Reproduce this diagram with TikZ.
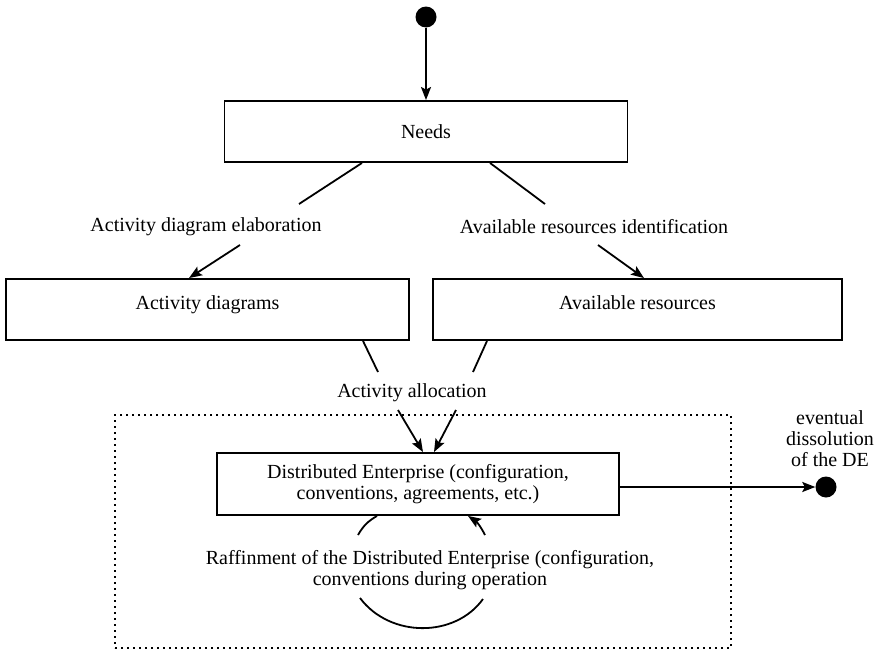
\documentclass[tikz,border=0pt]{standalone}
\usepackage{fontspec}
\setmainfont{Liberation Serif}
\usetikzlibrary{arrows.meta}
\begin{document}
\begin{tikzpicture}[x=1pt,y=-1pt,
  every node/.style={font=\fontsize{20}{21}\selectfont},
  box/.style={draw, line width=1.9pt, minimum width=403pt, minimum height=61pt, inner sep=0pt, align=center},
  lbl/.style={inner sep=0pt, align=center},
  dotnode/.style={circle, fill=black, minimum size=21pt, inner sep=0pt},
  frame/.style={draw, line width=2pt, dash pattern=on 2pt off 4pt, inner sep=0pt},
  conn/.style={line width=1.8pt},
  arr/.style={line width=1.8pt, -{Stealth[length=13pt,width=10pt,inset=2.5pt]}}]
\useasboundingbox (0,0) rectangle (881,653);

% dotted frame
\node[frame, minimum width=616pt, minimum height=233pt] (deframe) at (423,531.5) {};

% nodes
\node[dotnode] (start) at (426,17) {};
\node[box] (needs) at (426,131.5) {Needs};
\node[box, text height=14pt, text depth=14pt] (actd) at (207.5,309.5) {Activity diagrams};
\node[box, minimum width=409pt, text height=14pt, text depth=14pt] (avres) at (637.5,309.5) {Available resources};
\node[box, minimum width=402pt, minimum height=62pt, fill=white] (de) at (418,484) {Distributed Enterprise (configuration,\\conventions, agreements, etc.)};
\node[dotnode, minimum size=21pt] (end) at (826,487) {};

\node[lbl] (ade) at (206,227) {Activity diagram elaboration};
\node[lbl] (ari) at (594,227) {Available resources identification};
\node[lbl] (aa) at (412,393) {Activity allocation};
\node[lbl] (raf) at (430,570) {Raffinment of the Distributed Enterprise (configuration,\\conventions during operation};
\node[lbl] (diss) at (830,439) {eventual\\dissolution\\of the DE};

% free ends
\coordinate (ade-top) at (299,204);
\coordinate (ade-bot) at (240,245);
\coordinate (ari-top) at (545,204);
\coordinate (ari-bot) at (598,245);
\coordinate (aa-l) at (378,372);
\coordinate (aa-r) at (473,372);
\coordinate (aa-lb) at (398,410);
\coordinate (aa-rb) at (456,410);
\coordinate (raf-ul) at (358,535);
\coordinate (raf-ur) at (485,535);
\coordinate (raf-ll) at (360,598);
\coordinate (raf-lr) at (483,599);

% connectors
\draw[arr] (start) -- (needs.north);
\draw[conn] ([xshift=-64pt]needs.south) -- (ade-top);
\draw[arr] (ade-bot) -- ([xshift=-18.5pt]actd.north);
\draw[conn] ([xshift=64pt]needs.south) -- (ari-top);
\draw[arr] (ari-bot) -- ([xshift=6.5pt]avres.north);
\draw[conn] ([xshift=155.5pt]actd.south) -- (aa-l);
\draw[conn] ([xshift=-150.5pt]avres.south) -- (aa-r);
\draw[arr] (aa-lb) -- ([xshift=5pt]de.north);
\draw[arr] (aa-rb) -- ([xshift=16pt]de.north);
\draw[arr] (de.east |- end.west) -- (end.west);
\draw[conn] (raf-ul) to[bend left=15] ([xshift=-41pt]de.south);
\draw[arr] (raf-ur) to[bend right=15] ([xshift=50pt]de.south);
\draw[conn] (raf-ll) .. controls (390,638) and (455,638) .. (raf-lr);
\end{tikzpicture}
\end{document}
